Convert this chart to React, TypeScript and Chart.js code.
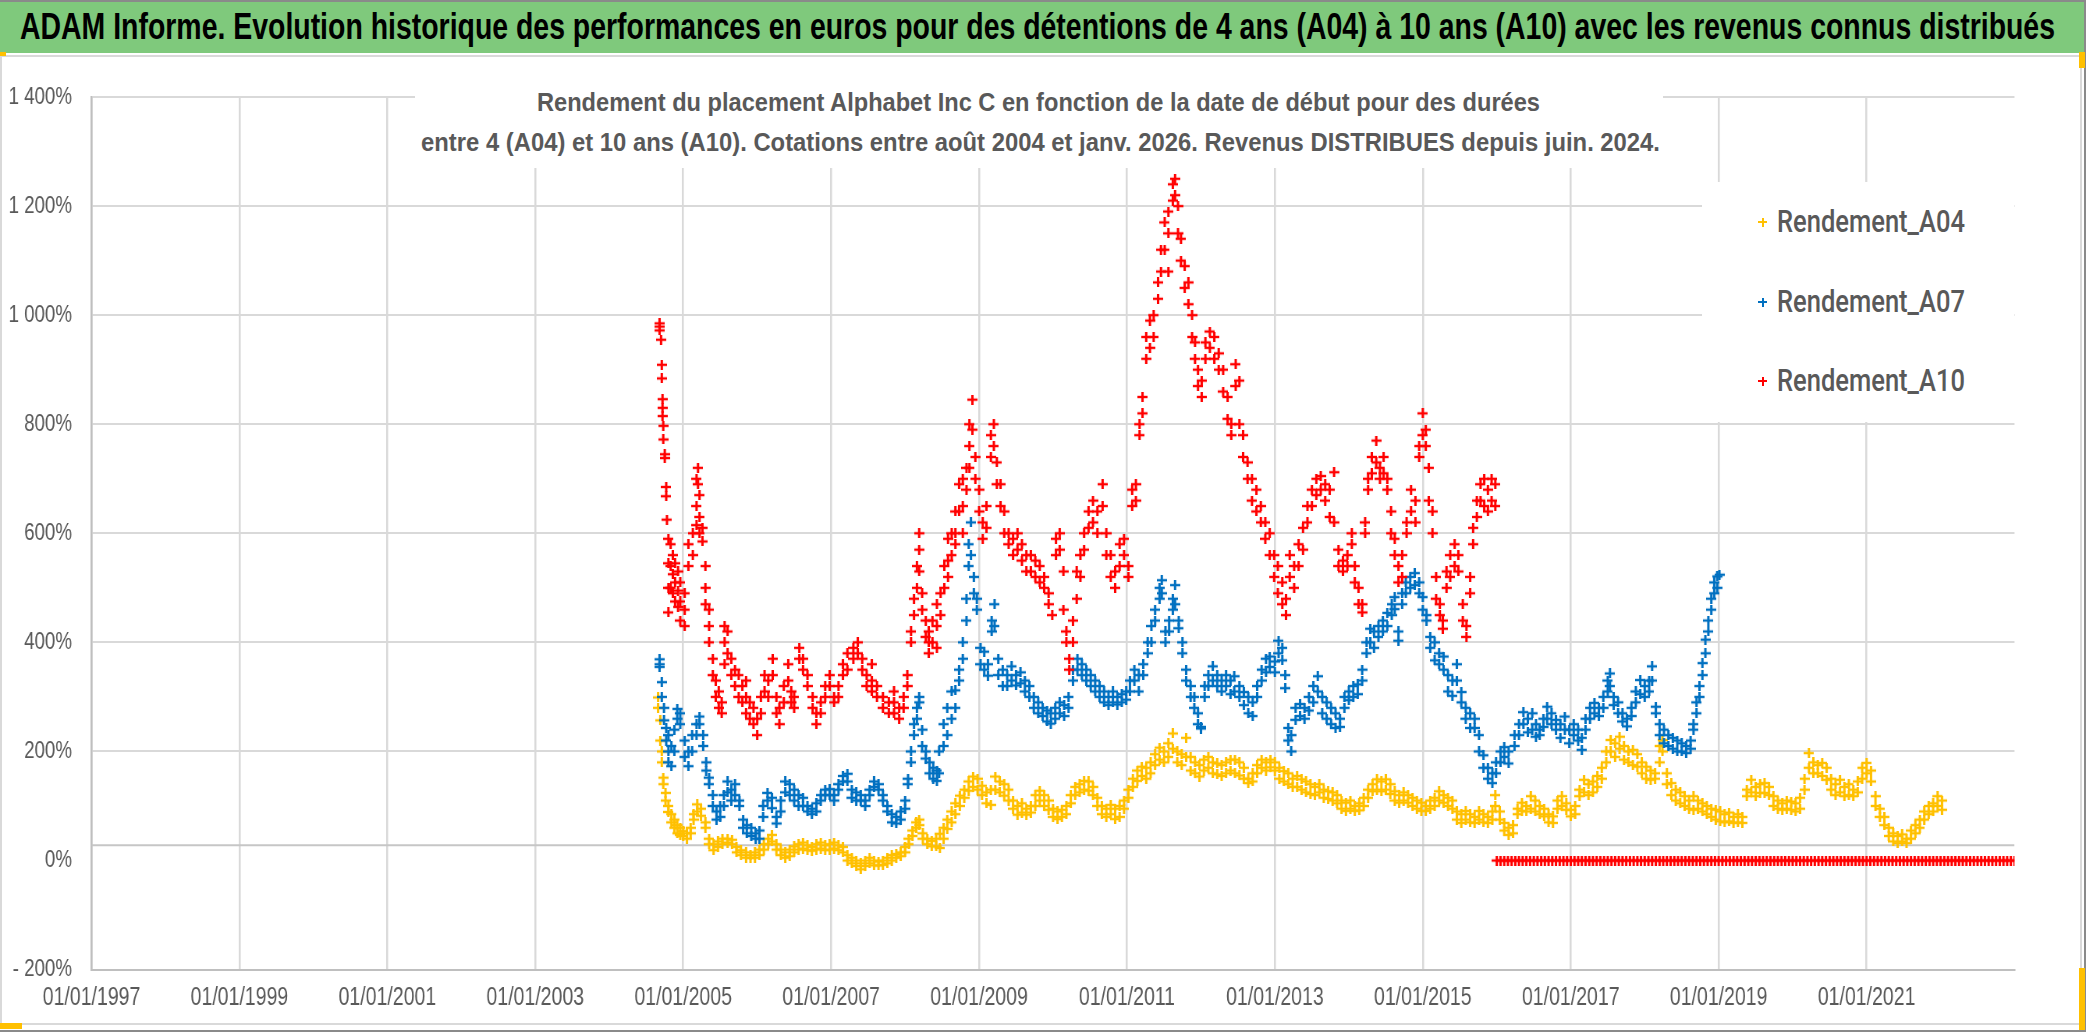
import React, { useEffect, useLayoutEffect, useRef } from 'react';
import { Chart, registerables } from 'chart.js';
Chart.register(...registerables);

// ---------- texts ----------
const BANNER_TITLE = 'ADAM Informe. Evolution historique des performances en euros pour des détentions de 4 ans (A04) à 10 ans (A10) avec les revenus connus distribués';
const SUBTITLE_1 = 'Rendement du placement Alphabet Inc C en fonction de la date de début pour des durées';
const SUBTITLE_2 = 'entre 4 (A04) et 10 ans (A10). Cotations entre août 2004 et janv. 2026. Revenus DISTRIBUES depuis juin. 2024.';

// ---------- axes ----------
const X_MIN = 1997;
const X_MAX = 2023;
const X_STEP = 2;
const Y_MIN = -200;
const Y_MAX = 1400;
const Y_STEP = 200;
const REF_LINE_VALUE = 28;

const SERIES_NAMES = ['Rendement_A04', 'Rendement_A07', 'Rendement_A10'];
const SERIES_COLORS = ['#FFC000', '#0070C0', '#FF0000'];

// ---------- data: [start date (decimal year), return % values read at that date...] ----------
const A04: number[][] = [
  [2004.66, 299, 280], [2004.69, 257, 220], [2004.71, 200, 180], [2004.73, 152, 140], [2004.76, 124, 110],
  [2004.80, 100, 89], [2004.84, 85, 70], [2004.88, 75, 60], [2004.92, 65, 50], [2004.96, 60, 47],
  [2005.00, 54, 45], [2005.05, 50, 40], [2005.10, 60, 50], [2005.14, 85, 75], [2005.19, 103, 90],
  [2005.24, 95, 82], [2005.30, 70, 60], [2005.35, 40, 30], [2005.41, 30, 19], [2005.47, 35, 25],
  [2005.53, 40, 30], [2005.60, 40, 33], [2005.66, 38, 30], [2005.72, 25, 15], [2005.78, 19, 10],
  [2005.85, 15, 5], [2005.91, 10, 5], [2005.97, 15, 5], [2006.03, 20, 10], [2006.09, 30, 20],
  [2006.15, 40, 30], [2006.20, 47, 35], [2006.26, 30, 20], [2006.32, 20, 10], [2006.38, 15, 5],
  [2006.44, 20, 8], [2006.50, 26, 15], [2006.56, 30, 20], [2006.62, 33, 22], [2006.68, 28, 19],
  [2006.74, 25, 18], [2006.80, 30, 20], [2006.86, 33, 22], [2006.92, 28, 19], [2006.98, 30, 20],
  [2007.04, 33, 22], [2007.10, 28, 19], [2007.16, 25, 15], [2007.22, 10, 0], [2007.28, 5, -5],
  [2007.34, 0, -10], [2007.40, -5, -16], [2007.46, 0, -10], [2007.52, 5, -5], [2007.58, 0, -9],
  [2007.64, -2, -9], [2007.70, 0, -8], [2007.76, 5, -5], [2007.82, 10, 0], [2007.88, 12, 5],
  [2007.94, 15, 8], [2008.00, 25, 15], [2008.05, 40, 30], [2008.10, 55, 45], [2008.15, 70, 60],
  [2008.19, 75, 65], [2008.24, 50, 40], [2008.30, 40, 30], [2008.36, 36, 26], [2008.42, 40, 26],
  [2008.47, 49, 23], [2008.52, 60, 40], [2008.57, 75, 58], [2008.63, 90, 70], [2008.68, 105, 85],
  [2008.74, 119, 100], [2008.80, 130, 115], [2008.86, 145, 128], [2008.92, 154, 135], [2008.98, 150, 130],
  [2009.04, 137, 120], [2009.10, 125, 105], [2009.16, 130, 102], [2009.22, 154, 130], [2009.28, 145, 125],
  [2009.34, 140, 119], [2009.40, 130, 110], [2009.46, 110, 95], [2009.52, 100, 84], [2009.58, 105, 88],
  [2009.64, 95, 84], [2009.70, 100, 88], [2009.76, 120, 100], [2009.82, 128, 110], [2009.88, 120, 100],
  [2009.94, 110, 93], [2010.00, 95, 80], [2010.06, 90, 76], [2010.12, 93, 80], [2010.18, 100, 85],
  [2010.24, 120, 105], [2010.30, 135, 120], [2010.36, 140, 125], [2010.42, 146, 130], [2010.48, 145, 128],
  [2010.54, 135, 120], [2010.60, 115, 100], [2010.66, 100, 85], [2010.72, 95, 80], [2010.78, 102, 85],
  [2010.84, 95, 76], [2010.90, 100, 80], [2010.96, 110, 95], [2011.02, 130, 115], [2011.08, 150, 135],
  [2011.14, 165, 146], [2011.20, 172, 155], [2011.26, 170, 150], [2011.32, 180, 160], [2011.38, 195, 175],
  [2011.44, 207, 185], [2011.50, 200, 180], [2011.56, 215, 190], [2011.62, 233, 205], [2011.68, 200, 180],
  [2011.74, 195, 175], [2011.80, 225, 190], [2011.86, 190, 165], [2011.92, 180, 160], [2011.98, 175, 154],
  [2012.04, 185, 165], [2012.10, 190, 170], [2012.16, 180, 160], [2012.22, 178, 158], [2012.28, 175, 155],
  [2012.34, 180, 160], [2012.40, 185, 165], [2012.46, 185, 160], [2012.52, 180, 156], [2012.58, 170, 150],
  [2012.64, 150, 142], [2012.70, 160, 145], [2012.76, 175, 160], [2012.82, 185, 170], [2012.88, 180, 165],
  [2012.94, 185, 171], [2013.00, 180, 165], [2013.06, 170, 150], [2013.12, 164, 145], [2013.18, 160, 140],
  [2013.24, 150, 135], [2013.30, 155, 135], [2013.36, 149, 130], [2013.42, 145, 125], [2013.48, 140, 122],
  [2013.54, 135, 120], [2013.60, 140, 125], [2013.66, 130, 115], [2013.72, 127, 113], [2013.78, 125, 110],
  [2013.84, 120, 105], [2013.90, 110, 95], [2013.96, 106, 91], [2014.02, 110, 95], [2014.08, 100, 91],
  [2014.14, 105, 92], [2014.20, 115, 100], [2014.26, 130, 115], [2014.32, 140, 127], [2014.38, 149, 130],
  [2014.44, 145, 127], [2014.50, 149, 130], [2014.56, 140, 122], [2014.62, 127, 110], [2014.68, 120, 106],
  [2014.74, 125, 110], [2014.80, 120, 106], [2014.86, 115, 100], [2014.92, 110, 95], [2014.98, 106, 91],
  [2015.04, 100, 91], [2015.10, 110, 95], [2015.16, 115, 100], [2015.22, 127, 110], [2015.28, 120, 106],
  [2015.34, 115, 100], [2015.40, 110, 95], [2015.46, 90, 75], [2015.52, 85, 69], [2015.58, 91, 75],
  [2015.64, 85, 70], [2015.70, 80, 69], [2015.76, 91, 75], [2015.82, 85, 70], [2015.88, 80, 69],
  [2015.94, 90, 75], [2015.98, 120, 100], [2016.04, 90, 75], [2016.10, 69, 55], [2016.16, 60, 47],
  [2016.22, 65, 50], [2016.28, 95, 85], [2016.34, 106, 91], [2016.40, 100, 90], [2016.46, 118, 95],
  [2016.52, 110, 90], [2016.58, 100, 85], [2016.64, 95, 81], [2016.70, 85, 70], [2016.76, 81, 69],
  [2016.82, 110, 95], [2016.88, 118, 100], [2016.94, 105, 93], [2017.00, 93, 81], [2017.06, 100, 85],
  [2017.12, 130, 118], [2017.18, 148, 125], [2017.24, 140, 120], [2017.30, 145, 125], [2017.36, 155, 135],
  [2017.42, 170, 150], [2017.48, 200, 180], [2017.54, 221, 200], [2017.60, 215, 190], [2017.66, 227, 205],
  [2017.72, 210, 185], [2017.78, 200, 180], [2017.84, 203, 175], [2017.90, 195, 172], [2017.96, 180, 160],
  [2018.02, 172, 150], [2018.08, 165, 148], [2018.14, 160, 150], [2018.20, 210, 180], [2018.24, 221, 200],
  [2018.30, 160, 140], [2018.36, 142, 120], [2018.42, 130, 110], [2018.48, 125, 105], [2018.54, 118, 100],
  [2018.60, 110, 95], [2018.66, 118, 93], [2018.72, 110, 95], [2018.78, 105, 90], [2018.84, 100, 85],
  [2018.90, 95, 80], [2018.96, 93, 75], [2019.02, 90, 72], [2019.08, 85, 70], [2019.14, 88, 72],
  [2019.20, 80, 69], [2019.26, 85, 70], [2019.32, 80, 69], [2019.38, 130, 118], [2019.44, 148, 125],
  [2019.50, 135, 118], [2019.56, 140, 124], [2019.62, 142, 124], [2019.68, 135, 120], [2019.74, 118, 100],
  [2019.80, 110, 95], [2019.86, 105, 93], [2019.92, 110, 95], [2019.98, 108, 93], [2020.04, 105, 90],
  [2020.10, 115, 95], [2020.16, 150, 130], [2020.22, 197, 170], [2020.28, 180, 160], [2020.34, 175, 160],
  [2020.40, 179, 155], [2020.46, 170, 148], [2020.52, 150, 130], [2020.58, 140, 120], [2020.64, 148, 125],
  [2020.70, 135, 118], [2020.76, 140, 120], [2020.82, 130, 118], [2020.88, 145, 125], [2020.94, 170, 150],
  [2021.00, 179, 160], [2021.06, 165, 145], [2021.12, 118, 100], [2021.18, 95, 80], [2021.24, 80, 65],
  [2021.30, 60, 45], [2021.36, 50, 35], [2021.42, 45, 32], [2021.48, 48, 35], [2021.54, 40, 32],
  [2021.60, 55, 40], [2021.66, 65, 50], [2021.72, 75, 60], [2021.78, 90, 75], [2021.84, 100, 85],
  [2021.90, 105, 90], [2021.96, 118, 100], [2022.02, 110, 93],
];

const A07: number[][] = [
  [2004.68, 369, 360, 355], [2004.71, 327, 300], [2004.74, 280, 257], [2004.77, 243, 220], [2004.80, 230, 200, 180],
  [2004.84, 210, 173], [2004.88, 240, 200], [2004.92, 278, 260], [2004.96, 270, 250], [2005.02, 220, 190],
  [2005.07, 200, 173], [2005.12, 230, 200], [2005.18, 250, 230], [2005.22, 264, 250], [2005.27, 230, 210],
  [2005.31, 180, 165], [2005.35, 152, 140], [2005.40, 120, 100], [2005.45, 90, 75], [2005.50, 100, 80],
  [2005.55, 120, 100], [2005.60, 145, 125], [2005.65, 130, 110], [2005.70, 140, 120], [2005.76, 110, 100],
  [2005.81, 75, 60], [2005.86, 65, 50], [2005.92, 60, 45], [2005.98, 50, 40], [2006.03, 55, 40],
  [2006.08, 100, 80], [2006.14, 124, 110], [2006.20, 115, 96], [2006.26, 80, 68], [2006.32, 110, 90],
  [2006.38, 145, 125], [2006.44, 140, 120], [2006.50, 130, 110], [2006.56, 120, 100], [2006.62, 115, 100],
  [2006.68, 100, 90], [2006.74, 95, 85], [2006.80, 105, 90], [2006.86, 120, 110], [2006.92, 130, 120],
  [2006.98, 131, 120], [2007.04, 120, 110], [2007.10, 140, 130], [2007.16, 155, 145], [2007.22, 159, 145],
  [2007.28, 130, 115], [2007.34, 125, 110], [2007.40, 120, 110], [2007.46, 110, 100], [2007.52, 130, 120],
  [2007.58, 145, 135], [2007.64, 140, 130], [2007.70, 120, 110], [2007.76, 100, 90], [2007.82, 85, 70],
  [2007.88, 80, 68], [2007.94, 90, 75], [2008.00, 110, 95], [2008.04, 150, 140], [2008.08, 200, 180],
  [2008.12, 250, 230], [2008.16, 280, 260], [2008.19, 300, 290], [2008.23, 240, 210], [2008.28, 200, 187],
  [2008.33, 180, 160], [2008.38, 170, 150], [2008.43, 165, 146], [2008.46, 200, 160], [2008.52, 250, 210],
  [2008.57, 280, 230], [2008.63, 310, 260], [2008.68, 312, 280], [2008.73, 350, 330], [2008.78, 400, 370],
  [2008.83, 480, 440], [2008.86, 580, 540], [2008.89, 620, 560], [2008.93, 520, 490], [2008.97, 480, 460],
  [2009.02, 390, 360], [2009.07, 383, 350], [2009.12, 360, 339], [2009.17, 440, 420], [2009.21, 470, 430],
  [2009.26, 370, 340], [2009.32, 350, 320], [2009.38, 340, 320], [2009.44, 356, 330], [2009.50, 340, 321],
  [2009.56, 345, 325], [2009.62, 330, 310], [2009.68, 320, 300], [2009.74, 300, 280], [2009.80, 290, 270],
  [2009.86, 280, 265], [2009.92, 275, 255], [2009.97, 270, 251], [2010.03, 280, 260], [2010.09, 290, 270],
  [2010.15, 285, 265], [2010.21, 300, 280], [2010.27, 350, 330], [2010.33, 370, 350], [2010.39, 360, 340],
  [2010.45, 350, 330], [2010.51, 340, 320], [2010.57, 330, 310], [2010.63, 320, 300], [2010.69, 310, 290],
  [2010.75, 300, 285], [2010.81, 310, 290], [2010.87, 300, 286], [2010.93, 305, 290], [2010.99, 310, 295],
  [2011.04, 330, 310], [2011.10, 350, 330], [2011.16, 340, 310], [2011.22, 360, 340], [2011.28, 400, 380],
  [2011.33, 430, 400], [2011.38, 460, 440], [2011.44, 500, 480], [2011.47, 514, 490], [2011.52, 420, 400],
  [2011.57, 440, 420], [2011.62, 480, 460], [2011.65, 505, 470], [2011.70, 440, 426], [2011.75, 400, 380],
  [2011.80, 350, 330], [2011.86, 320, 300], [2011.91, 300, 280], [2011.96, 270, 250], [2012.00, 245, 242],
  [2012.05, 320, 300], [2012.10, 340, 320], [2012.16, 356, 330], [2012.22, 340, 320], [2012.28, 330, 310],
  [2012.34, 340, 320], [2012.40, 330, 305], [2012.45, 338, 310], [2012.52, 320, 300], [2012.58, 309, 285],
  [2012.64, 300, 270], [2012.70, 290, 265], [2012.76, 320, 300], [2012.82, 350, 330], [2012.88, 370, 345],
  [2012.93, 374, 355], [2013.00, 365, 345], [2013.05, 403, 380], [2013.10, 390, 367], [2013.14, 340, 316],
  [2013.18, 243, 220], [2013.22, 230, 200], [2013.28, 280, 258], [2013.34, 287, 265], [2013.40, 280, 260],
  [2013.46, 300, 275], [2013.52, 320, 290], [2013.58, 338, 310], [2013.64, 300, 270], [2013.70, 290, 260],
  [2013.76, 280, 250], [2013.82, 270, 243], [2013.88, 260, 245], [2013.94, 300, 280], [2014.00, 310, 294],
  [2014.06, 320, 300], [2014.12, 323, 305], [2014.18, 350, 330], [2014.24, 400, 380], [2014.29, 425, 400],
  [2014.34, 420, 390], [2014.40, 430, 410], [2014.46, 440, 420], [2014.52, 454, 430], [2014.58, 470, 450],
  [2014.62, 483, 461], [2014.67, 420, 403], [2014.72, 490, 470], [2014.77, 510, 490], [2014.83, 520, 500],
  [2014.89, 527, 505], [2014.95, 510, 490], [2015.00, 483, 460], [2015.05, 450, 440], [2015.10, 410, 390],
  [2015.16, 400, 367], [2015.22, 380, 360], [2015.28, 374, 350], [2015.34, 340, 310], [2015.40, 330, 302],
  [2015.46, 360, 330], [2015.52, 309, 290], [2015.58, 280, 260], [2015.64, 270, 243], [2015.70, 260, 243],
  [2015.76, 230, 200], [2015.82, 193, 170], [2015.88, 170, 150], [2015.94, 160, 142], [2015.99, 180, 160],
  [2016.05, 200, 180], [2016.10, 208, 190], [2016.16, 200, 178], [2016.24, 230, 210], [2016.30, 250, 230],
  [2016.36, 272, 250], [2016.42, 260, 235], [2016.48, 270, 240], [2016.53, 250, 227], [2016.58, 240, 230],
  [2016.63, 260, 245], [2016.68, 282, 260], [2016.74, 270, 250], [2016.80, 258, 240], [2016.86, 250, 225],
  [2016.92, 264, 240], [2016.98, 240, 215], [2017.04, 250, 230], [2017.10, 240, 220], [2017.15, 225, 203],
  [2017.20, 260, 240], [2017.26, 280, 260], [2017.32, 289, 270], [2017.38, 280, 265], [2017.44, 300, 280],
  [2017.50, 330, 310], [2017.53, 343, 320], [2017.58, 300, 285], [2017.64, 290, 270], [2017.70, 270, 255],
  [2017.76, 260, 246], [2017.82, 280, 265], [2017.88, 310, 290], [2017.94, 331, 305], [2018.00, 320, 300],
  [2018.06, 330, 310], [2018.10, 356, 330], [2018.15, 282, 270], [2018.20, 250, 230], [2018.26, 240, 215],
  [2018.32, 230, 210], [2018.38, 225, 205], [2018.44, 220, 200], [2018.50, 215, 200], [2018.56, 210, 197],
  [2018.62, 220, 205], [2018.66, 250, 240], [2018.70, 290, 270], [2018.74, 320, 300], [2018.78, 362, 340],
  [2018.82, 405, 380], [2018.86, 440, 420], [2018.90, 480, 460], [2018.94, 510, 490], [2018.98, 521, 500],
  [2019.01, 524],
];

const A10: number[][] = [
  [2004.68, 985, 979, 972], [2004.70, 955], [2004.71, 909, 884], [2004.72, 846, 830, 815], [2004.73, 797, 772],
  [2004.75, 745, 738], [2004.77, 685, 668], [2004.78, 625], [2004.80, 590, 545, 500, 455], [2004.83, 580, 540, 500],
  [2004.86, 560, 525, 490], [2004.89, 545, 510, 475], [2004.93, 530, 495, 465], [2004.96, 510, 475, 440], [2005.02, 490, 460, 430],
  [2005.07, 580, 540], [2005.13, 600, 560], [2005.18, 700, 650, 615], [2005.20, 720, 690], [2005.22, 670, 630, 600],
  [2005.26, 610, 585], [2005.30, 540, 500, 470], [2005.35, 460, 430, 400], [2005.40, 370, 340], [2005.44, 330, 300],
  [2005.48, 310, 280], [2005.52, 290, 270], [2005.56, 430, 400, 360], [2005.60, 420, 380], [2005.65, 370, 340],
  [2005.70, 350, 320], [2005.75, 340, 300], [2005.80, 320, 290], [2005.85, 330, 300, 270], [2005.90, 290, 260],
  [2005.95, 280, 250], [2006.00, 260, 230], [2006.05, 300, 270], [2006.10, 340, 310], [2006.15, 330, 300],
  [2006.21, 370, 340], [2006.26, 300, 270], [2006.30, 280, 250], [2006.36, 320, 290], [2006.42, 360, 330],
  [2006.46, 310, 290], [2006.50, 300, 280], [2006.57, 390, 370], [2006.62, 370, 350], [2006.68, 340, 320],
  [2006.75, 300, 280], [2006.80, 270, 250], [2006.86, 290, 270], [2006.92, 320, 300], [2006.98, 340, 320],
  [2007.04, 300, 290], [2007.10, 320, 300], [2007.16, 360, 340], [2007.22, 380, 350], [2007.30, 390, 370],
  [2007.36, 400, 380], [2007.42, 370, 350], [2007.48, 340, 320], [2007.55, 360, 330, 310], [2007.62, 320, 300],
  [2007.70, 300, 280], [2007.78, 290, 270], [2007.85, 310, 290, 270], [2007.92, 280, 260], [2007.98, 300, 280],
  [2008.03, 340, 320], [2008.08, 420, 400], [2008.12, 480, 450], [2008.16, 540, 500], [2008.19, 600, 570, 530],
  [2008.23, 490, 460], [2008.28, 440, 410], [2008.32, 420, 400, 380], [2008.37, 440, 400], [2008.43, 470, 430, 390],
  [2008.48, 490, 450], [2008.53, 540, 500], [2008.58, 590, 550, 520], [2008.63, 600, 560], [2008.68, 640, 600, 580],
  [2008.73, 690, 640], [2008.78, 700, 650, 600], [2008.83, 720, 680], [2008.87, 800, 760, 720], [2008.91, 845, 790],
  [2008.95, 740, 700], [2009.00, 680, 640], [2009.05, 620, 590], [2009.10, 650, 610], [2009.16, 780, 740],
  [2009.20, 800, 760], [2009.24, 730, 690], [2009.29, 690, 650], [2009.34, 640, 600], [2009.40, 600, 580],
  [2009.46, 590, 560], [2009.52, 600, 570], [2009.58, 580, 550], [2009.64, 560, 530], [2009.70, 560, 530],
  [2009.76, 550, 520], [2009.82, 540, 510], [2009.88, 520, 500], [2009.94, 490, 470], [2009.99, 450],
  [2010.04, 590, 560], [2010.09, 600, 570], [2010.14, 530, 460], [2010.18, 420, 400], [2010.22, 370, 350],
  [2010.27, 440, 400], [2010.32, 530, 480], [2010.37, 560, 520], [2010.42, 600, 570], [2010.48, 640, 610],
  [2010.54, 660, 620], [2010.60, 640, 600], [2010.67, 690, 650], [2010.72, 600, 560], [2010.78, 560, 520],
  [2010.84, 530, 500], [2010.90, 580, 540], [2010.96, 590, 560], [2011.02, 540, 520], [2011.07, 680, 650],
  [2011.12, 690, 660], [2011.17, 800, 780], [2011.21, 850, 820], [2011.26, 960, 920], [2011.31, 990, 940],
  [2011.36, 1000, 960], [2011.42, 1060, 1030], [2011.46, 1120, 1080], [2011.51, 1170, 1120], [2011.56, 1190, 1150, 1080],
  [2011.62, 1240, 1210], [2011.65, 1250, 1220], [2011.69, 1200, 1150], [2011.73, 1140, 1100], [2011.78, 1090, 1050],
  [2011.83, 1060, 1020], [2011.88, 1000, 960], [2011.92, 950, 920], [2011.96, 900, 870], [2012.01, 880, 850],
  [2012.06, 950, 920], [2012.12, 970, 940], [2012.18, 960, 920], [2012.24, 930, 900], [2012.30, 900, 860],
  [2012.36, 850, 810], [2012.41, 800, 780], [2012.47, 910, 870], [2012.52, 880, 800], [2012.57, 780, 740],
  [2012.63, 730, 700], [2012.69, 700, 660], [2012.75, 680, 640], [2012.81, 650, 620], [2012.87, 620, 590],
  [2012.93, 600, 560], [2012.99, 560, 520], [2013.04, 540, 490], [2013.10, 510, 470], [2013.15, 480, 450],
  [2013.20, 560, 520], [2013.26, 540, 500], [2013.32, 580, 540], [2013.38, 610, 570], [2013.44, 650, 620],
  [2013.50, 680, 650], [2013.56, 700, 670], [2013.62, 705, 680], [2013.68, 690, 660], [2013.74, 680, 630],
  [2013.80, 712, 620], [2013.86, 570, 540], [2013.92, 550, 530], [2013.98, 560, 540], [2014.04, 600, 580],
  [2014.08, 540, 510], [2014.13, 500, 470], [2014.18, 470, 455], [2014.22, 620, 600], [2014.26, 700, 680],
  [2014.31, 740, 710], [2014.37, 770, 730], [2014.42, 720, 700], [2014.47, 740, 710], [2014.52, 700, 680],
  [2014.57, 640, 600], [2014.62, 590, 560], [2014.67, 540, 510], [2014.72, 560, 520], [2014.78, 620, 600],
  [2014.84, 680, 640], [2014.90, 660, 620], [2014.95, 760, 740], [2015.00, 820, 780], [2015.04, 790, 760],
  [2015.08, 720, 660], [2015.13, 640, 600], [2015.18, 520, 480], [2015.23, 470, 450], [2015.27, 440, 425],
  [2015.32, 530, 500], [2015.37, 560, 520], [2015.43, 580, 540], [2015.48, 560, 530], [2015.54, 470, 440],
  [2015.59, 430, 410], [2015.64, 520, 490], [2015.68, 610, 580], [2015.73, 660, 630], [2015.78, 690, 660],
  [2015.83, 700, 650], [2015.88, 680, 640], [2015.93, 700, 660], [2015.98, 690, 650],
  // start dates from 2016 onwards: value shown at 0 %
  [2016.00, 0], [2016.05, 0], [2016.10, 0], [2016.15, 0], [2016.20, 0], [2016.25, 0], [2016.30, 0], [2016.35, 0],
  [2016.40, 0], [2016.45, 0], [2016.50, 0], [2016.55, 0], [2016.60, 0], [2016.65, 0], [2016.70, 0], [2016.75, 0],
  [2016.80, 0], [2016.85, 0], [2016.90, 0], [2016.95, 0], [2017.00, 0], [2017.05, 0], [2017.10, 0], [2017.15, 0],
  [2017.20, 0], [2017.25, 0], [2017.30, 0], [2017.35, 0], [2017.40, 0], [2017.45, 0], [2017.50, 0], [2017.55, 0],
  [2017.60, 0], [2017.65, 0], [2017.70, 0], [2017.75, 0], [2017.80, 0], [2017.85, 0], [2017.90, 0], [2017.95, 0],
  [2018.00, 0], [2018.05, 0], [2018.10, 0], [2018.15, 0], [2018.20, 0], [2018.25, 0], [2018.30, 0], [2018.35, 0],
  [2018.40, 0], [2018.45, 0], [2018.50, 0], [2018.55, 0], [2018.60, 0], [2018.65, 0], [2018.70, 0], [2018.75, 0],
  [2018.80, 0], [2018.85, 0], [2018.90, 0], [2018.95, 0], [2019.00, 0], [2019.05, 0], [2019.10, 0], [2019.15, 0],
  [2019.20, 0], [2019.25, 0], [2019.30, 0], [2019.35, 0], [2019.40, 0], [2019.45, 0], [2019.50, 0], [2019.55, 0],
  [2019.60, 0], [2019.65, 0], [2019.70, 0], [2019.75, 0], [2019.80, 0], [2019.85, 0], [2019.90, 0], [2019.95, 0],
  [2020.00, 0], [2020.05, 0], [2020.10, 0], [2020.15, 0], [2020.20, 0], [2020.25, 0], [2020.30, 0], [2020.35, 0],
  [2020.40, 0], [2020.45, 0], [2020.50, 0], [2020.55, 0], [2020.60, 0], [2020.65, 0], [2020.70, 0], [2020.75, 0],
  [2020.80, 0], [2020.85, 0], [2020.90, 0], [2020.95, 0], [2021.00, 0], [2021.05, 0], [2021.10, 0], [2021.15, 0],
  [2021.20, 0], [2021.25, 0], [2021.30, 0], [2021.35, 0], [2021.40, 0], [2021.45, 0], [2021.50, 0], [2021.55, 0],
  [2021.60, 0], [2021.65, 0], [2021.70, 0], [2021.75, 0], [2021.80, 0], [2021.85, 0], [2021.90, 0], [2021.95, 0],
  [2022.00, 0], [2022.05, 0], [2022.10, 0], [2022.15, 0], [2022.20, 0], [2022.25, 0], [2022.30, 0], [2022.35, 0],
  [2022.40, 0], [2022.45, 0], [2022.50, 0], [2022.55, 0], [2022.60, 0], [2022.65, 0], [2022.70, 0], [2022.75, 0],
  [2022.80, 0], [2022.85, 0], [2022.90, 0], [2022.95, 0], [2023.00, 0],
];

const SERIES_ROWS = [A04, A07, A10];

// ---------- presentation ----------
// The reference is a horizontally compressed screenshot: the chart canvas is drawn wider and squeezed.
const PAGE_W = 2086;
const PAGE_H = 1032;
const SX = 0.78;
const CANVAS_W = Math.round(PAGE_W / SX);
const SQX = PAGE_W / CANVAS_W;
const SANS = '"Liberation Sans", Arial, sans-serif';

function toPoints(rows: number[][]) {
  const pts: { x: number; y: number }[] = [];
  rows.forEach((r) => {
    for (let i = 1; i < r.length; i++) pts.push({ x: r[0], y: r[i] });
  });
  return pts;
}

function fmtPct(v: number) {
  const abs = String(Math.abs(v)).replace(/\B(?=(\d{3})+(?!\d))/g, ' ');
  return (v < 0 ? '- ' : '') + abs + '%';
}

// cross marker pre-stretched horizontally so it looks square after the squeeze
function makeCross(color: string, size: number, stroke: number) {
  const c = document.createElement('canvas');
  const w = Math.round(size / SQX);
  c.width = w;
  c.height = size;
  const ctx = c.getContext('2d')!;
  ctx.fillStyle = color;
  ctx.fillRect(0, (size - stroke) / 2, w, stroke);
  const vw = stroke / SQX;
  ctx.fillRect((w - vw) / 2, 0, vw, size);
  return c;
}

function FitText({ text, width, style }: { text: string; width: number; style?: React.CSSProperties }) {
  const ref = useRef<HTMLSpanElement>(null);
  useLayoutEffect(() => {
    const el = ref.current;
    if (!el) return;
    el.style.transform = 'none';
    const w = el.getBoundingClientRect().width;
    if (w > 0) el.style.transform = `scaleX(${width / w})`;
  }, [text, width]);
  return (
    <span
      ref={ref}
      style={{ display: 'inline-block', whiteSpace: 'nowrap', transformOrigin: 'left center', ...style }}
    >
      {text}
    </span>
  );
}

function LegendCross({ color }: { color: string }) {
  return (
    <div style={{ position: 'relative', width: 9, height: 9 }}>
      <div style={{ position: 'absolute', left: 0, top: 3.5, width: 9, height: 2, background: color }} />
      <div style={{ position: 'absolute', left: 3.5, top: 0, width: 2, height: 9, background: color }} />
    </div>
  );
}

export default function App() {
  const canvasRef = useRef<HTMLCanvasElement>(null);

  useEffect(() => {
    document.body.style.margin = '0';
    document.body.style.overflow = 'hidden';
    const canvas = canvasRef.current;
    if (!canvas) return;

    const datasets: any[] = SERIES_ROWS.map((rows, i) => ({
      type: 'scatter',
      label: SERIES_NAMES[i],
      data: toPoints(rows),
      pointStyle: makeCross(SERIES_COLORS[i], 10, 2.4),
      pointRadius: 5,
      borderColor: SERIES_COLORS[i],
      backgroundColor: SERIES_COLORS[i],
      showLine: false,
      order: 2 - i,
    }));
    datasets.push({
      type: 'line',
      label: 'ref',
      data: [
        { x: X_MIN, y: REF_LINE_VALUE },
        { x: X_MAX, y: REF_LINE_VALUE },
      ],
      borderColor: '#C6C6C6',
      borderWidth: 2,
      pointRadius: 0,
      fill: false,
      order: 10,
    });

    const chart = new Chart(canvas, {
      type: 'scatter',
      data: { datasets },
      options: {
        animation: false,
        responsive: false,
        devicePixelRatio: 1,
        layout: { padding: { left: 0, right: 71.5 / SQX, top: 97, bottom: 0 } },
        plugins: {
          legend: { display: false },
          title: { display: false },
          tooltip: { enabled: false },
        },
        events: [],
        scales: {
          x: {
            type: 'linear',
            min: X_MIN,
            max: X_MAX,
            afterFit: (s: any) => {
              s.height = 62.4;
            },
            ticks: {
              stepSize: X_STEP,
              autoSkip: false,
              maxRotation: 0,
              padding: 14,
              color: '#595959',
              font: { family: SANS, size: 25 },
              callback: (v: any) => (Number(v) === X_MAX ? '' : '01/01/' + v),
            },
            grid: {
              color: (ctx: any) => (ctx.tick && ctx.tick.value === X_MAX ? 'rgba(0,0,0,0)' : '#D9D9D9'),
              lineWidth: 2 / SQX,
              drawTicks: false,
            },
            border: { display: true, color: '#BFBFBF', width: 2 },
          },
          y: {
            type: 'linear',
            min: Y_MIN,
            max: Y_MAX,
            afterFit: (s: any) => {
              s.width = 91.5 / SQX;
            },
            ticks: {
              stepSize: Y_STEP,
              padding: 19.5 / SQX,
              color: '#595959',
              font: { family: SANS, size: 24 },
              callback: (v: any) => fmtPct(Number(v)),
            },
            grid: {
              color: (ctx: any) => (ctx.tick && ctx.tick.value === 0 ? 'rgba(0,0,0,0)' : '#D9D9D9'),
              lineWidth: 2,
              drawTicks: false,
            },
            border: { display: true, color: '#BFBFBF', width: 2 / SQX },
          },
        },
      } as any,
    });
    return () => chart.destroy();
  }, []);

  const legendY = [222, 302, 381];

  return (
    <div
      style={{
        position: 'absolute',
        left: 0,
        top: 0,
        width: PAGE_W,
        height: PAGE_H,
        overflow: 'hidden',
        background: '#FFFFFF',
        fontFamily: SANS,
      }}
    >
      {/* banner */}
      <div style={{ position: 'absolute', left: 0, top: 0, width: PAGE_W, height: 2, background: '#8A8A8A' }} />
      <div style={{ position: 'absolute', left: 0, top: 2, width: PAGE_W, height: 51, background: '#7FC97C' }} />
      <div style={{ position: 'absolute', left: 20, top: 5, height: 44, lineHeight: '44px' }}>
        <FitText text={BANNER_TITLE} width={2035} style={{ fontSize: 37, fontWeight: 700, color: '#000000' }} />
      </div>

      {/* chart frame */}
      <div
        style={{
          position: 'absolute',
          left: 0,
          top: 55,
          width: 2078,
          height: 966,
          border: '2px solid #D9D9D9',
        }}
      />
      <div style={{ position: 'absolute', left: 2084, top: 0, width: 2, height: PAGE_H, background: '#8A8A8A' }} />
      <div style={{ position: 'absolute', left: 0, top: 1030, width: PAGE_W, height: 2, background: '#8A8A8A' }} />
      <div style={{ position: 'absolute', left: 0, top: 52, width: 6, height: 4, background: '#FFC000' }} />
      <div style={{ position: 'absolute', left: 2079, top: 52, width: 6, height: 16, background: '#FFC000' }} />
      <div style={{ position: 'absolute', left: 2079, top: 968, width: 6, height: 62, background: '#FFC000' }} />
      <div style={{ position: 'absolute', left: 0, top: 1023, width: 22, height: 6, background: '#FFC000' }} />

      {/* chart canvas, drawn wide and squeezed horizontally */}
      <div
        style={{
          position: 'absolute',
          left: 0,
          top: 0,
          width: CANVAS_W,
          height: PAGE_H,
          transform: `scaleX(${SQX})`,
          transformOrigin: '0 0',
        }}
      >
        <canvas
          ref={canvasRef}
          width={CANVAS_W}
          height={PAGE_H}
          style={{ display: 'block', width: CANVAS_W, height: PAGE_H }}
        />
      </div>

      {/* chart title box */}
      <div style={{ position: 'absolute', left: 415, top: 64, width: 1248, height: 104, background: '#FFFFFF' }} />
      <div style={{ position: 'absolute', left: 537, top: 86, height: 32, lineHeight: '32px' }}>
        <FitText text={SUBTITLE_1} width={1003} style={{ fontSize: 26, fontWeight: 700, color: '#595959' }} />
      </div>
      <div style={{ position: 'absolute', left: 421, top: 126, height: 32, lineHeight: '32px' }}>
        <FitText text={SUBTITLE_2} width={1239} style={{ fontSize: 26, fontWeight: 700, color: '#595959' }} />
      </div>

      {/* legend box */}
      <div style={{ position: 'absolute', left: 1702, top: 182, width: 312, height: 240, background: '#FFFFFF' }} />
      {SERIES_NAMES.map((name, i) => (
        <React.Fragment key={name}>
          <div style={{ position: 'absolute', left: 1758, top: legendY[i] - 4.5 }}>
            <LegendCross color={SERIES_COLORS[i]} />
          </div>
          <div style={{ position: 'absolute', left: 1777, top: legendY[i] - 20, height: 40, lineHeight: '40px' }}>
            <FitText
              text={name}
              width={188}
              style={{ fontSize: 31, fontWeight: 500, fontFamily: 'Roboto, "Liberation Sans", sans-serif', color: '#595959' }}
            />
          </div>
        </React.Fragment>
      ))}
    </div>
  );
}
